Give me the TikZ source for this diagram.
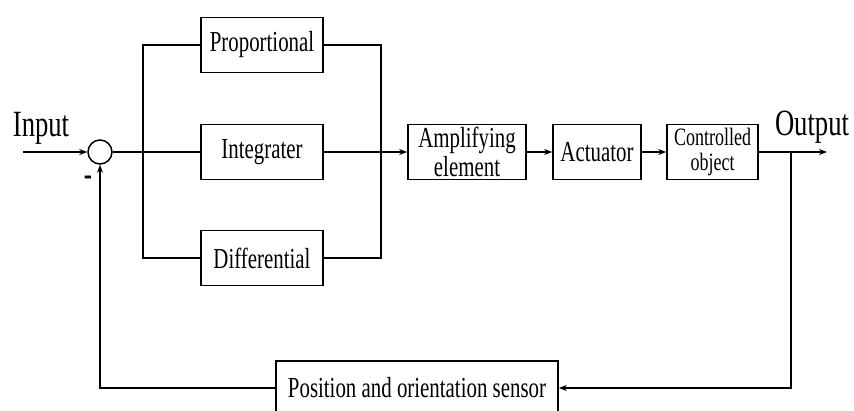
\documentclass[tikz,border=0pt]{standalone}
\usepackage{fontspec}
\setmainfont{Liberation Serif}[FakeStretch=0.72]
\usetikzlibrary{arrows.meta}
\begin{document}
\begin{tikzpicture}[x=1pt,y=-1pt,line width=1.5pt,
  blk/.style={draw,line width=1.6pt,inner sep=0pt,minimum height=55pt,align=center,font=\fontsize{29}{29}\selectfont},
  lbl/.style={font=\fontsize{37}{37}\selectfont,anchor=base,inner sep=0pt},
  arr/.style={-{Stealth[length=8pt,width=6pt]}}]
\useasboundingbox (0,0) rectangle (854,410);
\node[blk,minimum width=122pt] (prop) at (262,45) {Proportional};
\node[blk,minimum width=122pt] (int) at (262,152) {Integrater};
\node[blk,minimum width=122pt] (diff) at (262,258) {Differential};
\node[blk,minimum width=118pt] (amp) at (467,152) {Amplifying\\element};
\node[blk,minimum width=88pt] (act) at (597,152) {Actuator};
\node[blk,minimum width=91pt,font=\fontsize{25}{25}\selectfont] (ctl) at (712.5,152) {Controlled\\object};
\node[blk,minimum width=282pt,minimum height=54pt] (sen) at (417,388) {Position and orientation sensor};
\node[circle,draw,minimum size=24pt,inner sep=0pt] (sum) at (100,152) {};
\node[lbl] (in) at (41,136) {Input};
\node[lbl] (out) at (812,135) {Output};
\node[font=\fontsize{34}{34}\selectfont\bfseries,inner sep=0pt] (minus) at (88,181) {-};
\coordinate (inS) at (23,152);
\coordinate (lt) at (143,45);
\coordinate (lb) at (143,258);
\coordinate (rt) at (381,45);
\coordinate (rb) at (381,258);
\coordinate (oend) at (827,152);
\coordinate (fb) at (791,152);
\draw[arr] (inS) -- (sum);
\draw (sum) -- (int);
\draw (prop.west) -- (lt) -- (lb) -- (diff.west);
\draw (prop.east) -- (rt) -- (rb) -- (diff.east);
\draw[arr] (int) -- (amp);
\draw[arr] (amp) -- (act);
\draw[arr] (act) -- (ctl);
\draw[arr] (ctl) -- (oend);
\draw[arr] (fb) |- (sen.east);
\draw[arr] (sen.west) -| (sum.south);
\end{tikzpicture}
\end{document}
